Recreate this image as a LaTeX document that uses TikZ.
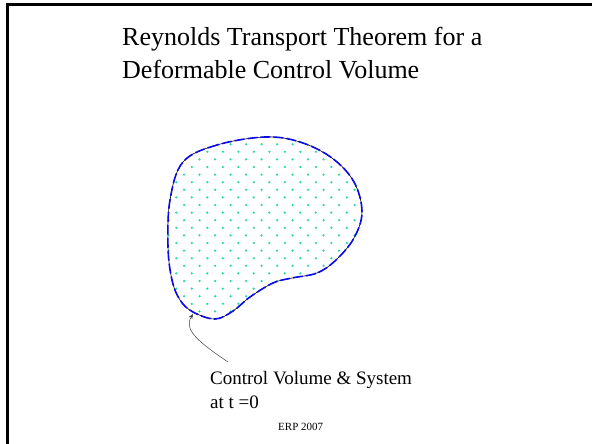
\documentclass[tikz,border=0pt]{standalone}
\usepackage{fontspec}
\setmainfont{Liberation Serif}
\usepackage{tikz}
\usetikzlibrary{arrows.meta}
\definecolor{cvDot}{RGB}{40,215,165}
\definecolor{cvBlue}{RGB}{10,10,235}

\begin{document}
\begin{tikzpicture}[
    x=1pt, y=-1pt,
    titletext/.style={anchor=base west, inner sep=0pt, align=left, font=\fontsize{26}{33}\selectfont},
    labeltext/.style={anchor=base west, inner sep=0pt, align=left, font=\fontsize{19}{24}\selectfont},
    smalltext/.style={anchor=base west, inner sep=0pt, font=\fontsize{11}{13}\selectfont},
    frameline/.style={line width=2.2pt, draw=black},
    pointer/.style={-{Stealth[length=5pt, width=4pt]}, line width=0.5pt, draw=black!75}
]
\useasboundingbox (0,0) rectangle (592,444);

% Slide frame
\draw [frameline] (7.5,444) -- (7.5,4.5) -- (592,4.5);

% Title (base anchor sits on the last line)
\node (title) [titletext] at (122,79) {Reynolds Transport Theorem for a\\Deformable Control Volume};

% Control volume
\def\cvpath{plot[smooth cycle, tension=0.6] coordinates {(265,137) (217,145) (183,162) (170,200) (168,247) (172,280) (180,300) (193,312) (215,319) (233,311) (250,297) (273,283) (292,278) (317,273) (336,260) (354,238) (362,212) (354,182) (332,158) (300,142)}}
\begin{scope}
  \clip \cvpath;
  \foreach \r in {0,...,25} {
    \pgfmathsetmacro{\yy}{136.6+7.6*\r}
    \pgfmathsetmacro{\xo}{mod(\r,2)==0 ? 0 : 7.75}
    \foreach \c in {0,...,14} {
      \fill [cvDot] (145.3+\xo+15.5*\c,\yy) circle (1.25pt);
    }
  }
\end{scope}
\draw [black, line width=0.6pt] \cvpath;
\draw [cvBlue, line width=1.6pt, dash pattern=on 10pt off 3pt] \cvpath;

% Label
\node (cvlabel) [labeltext] at (210,408) {Control Volume \& System\\at t =0};
\node (erp) [smalltext] at (278,430) {ERP 2007};

% Pointer
\coordinate (tail) at (228,362);
\coordinate (tip) at (193,314);
\draw [pointer] (tail) .. controls (200,343) and (183,330) .. (tip);

\end{tikzpicture}
\end{document}
